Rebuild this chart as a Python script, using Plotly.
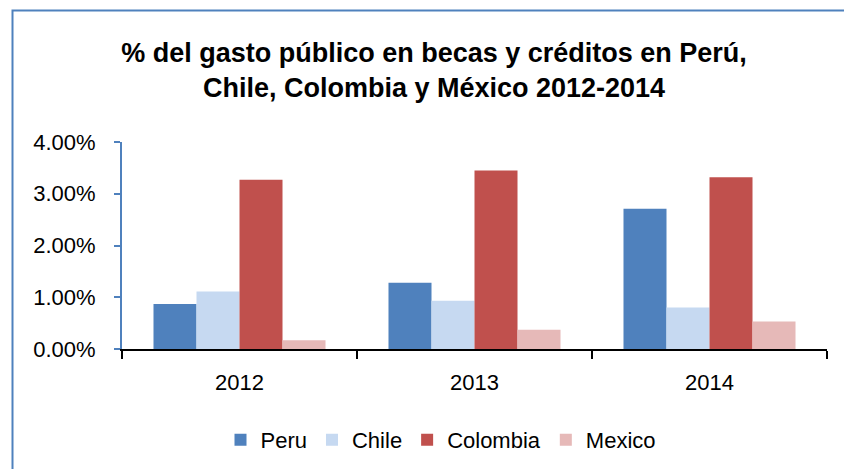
import plotly.graph_objects as go

years = ["2012", "2013", "2014"]
peru = [0.0087, 0.0128, 0.0271]
chile = [0.0111, 0.0093, 0.0080]
colombia = [0.0327, 0.0345, 0.0332]
mexico = [0.0017, 0.0037, 0.0053]

series = [
    ("Peru", peru, "#4F81BD"),
    ("Chile", chile, "#C6D9F1"),
    ("Colombia", colombia, "#C0504D"),
    ("Mexico", mexico, "#E6B9B8"),
]

W, H = 844, 469
L, R, T, B = 122, 17, 142, 120
pw, ph = W - L - R, H - T - B

def px_x(x):
    return (x - L) / pw

def px_y(y):
    return 1 - (y - T) / ph

FONT = "Liberation Sans, Arial, sans-serif"

fig = go.Figure()
for name, vals, color in series:
    fig.add_trace(go.Bar(x=years, y=vals, name=name, marker=dict(color=color, line=dict(width=0))))

fx0, fy0 = px_x(12.5), px_y(10.5)
fx1, fy1 = px_x(844), px_y(469)
frame_path = f"M {fx0},{fy1} L {fx0},{fy0} L {fx1},{fy0}"

fig.update_layout(
    width=W, height=H,
    margin=dict(l=L, r=R, t=T, b=B),
    paper_bgcolor="white", plot_bgcolor="white",
    barmode="group", bargap=0.268, bargroupgap=0,
    hovermode=False,
    font=dict(family=FONT, size=22, color="#000000"),
    title=dict(
        text="% del gasto público en becas y créditos en Perú,<br>Chile, Colombia y México 2012-2014",
        font=dict(family=FONT, size=27, color="#000000", weight="bold"),
        x=434 / W, xanchor="center", xref="container",
        y=1 - 62 / H, yanchor="middle", yref="container",
    ),
    xaxis=dict(
        showline=True, linecolor="#000000", linewidth=2,
        ticks="outside", tickson="boundaries", ticklen=8, tickwidth=2, tickcolor="#000000",
        showgrid=False, zeroline=False, showspikes=False,
        tickfont=dict(family=FONT, size=22),
        ticklabelstandoff=13,
    ),
    yaxis=dict(
        range=[0, 0.04], dtick=0.01, tickformat=".2%",
        showline=True, linecolor="#4F81BD", linewidth=2,
        ticks="outside", ticklen=6, tickwidth=2, tickcolor="#4F81BD",
        showgrid=False, zeroline=False, showspikes=False,
        tickfont=dict(family=FONT, size=22),
        ticklabelstandoff=14,
    ),
    legend=dict(
        orientation="h", x=441 / W, xanchor="center", xref="container",
        y=1 - 440 / H, yanchor="middle", yref="container",
        font=dict(family=FONT, size=22), itemwidth=30, traceorder="normal",
    ),
    showlegend=True,
    shapes=[
        dict(type="path", xref="paper", yref="paper", path=frame_path,
             line=dict(color="#4F81BD", width=2), fillcolor="rgba(0,0,0,0)"),
    ],
)

fig.write_html(
    "out.html",
    config={"displayModeBar": False, "staticPlot": True},
    post_script=(
        "var s=document.createElement('style');"
        "s.textContent='html,body{margin:0;padding:0;overflow:hidden;scrollbar-width:none;}"
        "::-webkit-scrollbar{display:none;width:0;height:0;}';"
        "document.head.appendChild(s);"
    ),
)
